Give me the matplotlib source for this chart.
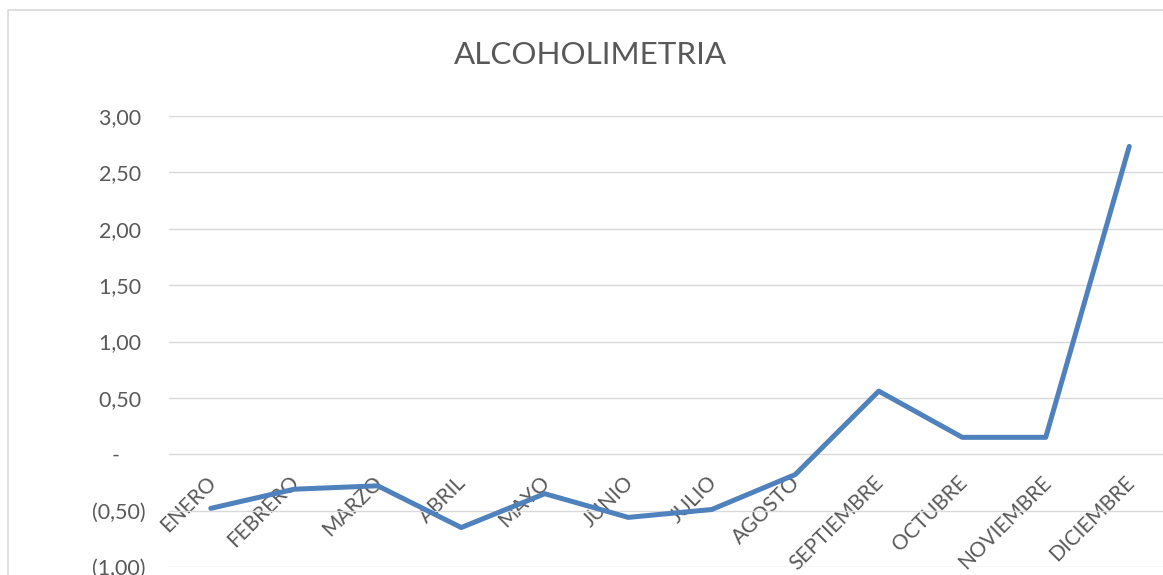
import matplotlib
matplotlib.use("Agg")
import matplotlib.pyplot as plt
from matplotlib.lines import Line2D
from matplotlib.ticker import FixedLocator, FuncFormatter
from matplotlib.transforms import ScaledTranslation

plt.rcParams['font.family'] = ['Lato', 'DejaVu Sans']

months = ["ENERO", "FEBRERO", "MARZO", "ABRIL", "MAYO", "JUNIO", "JULIO",
          "AGOSTO", "SEPTIEMBRE", "OCTUBRE", "NOVIEMBRE", "DICIEMBRE"]
values = [-0.48, -0.31, -0.28, -0.65, -0.35, -0.56, -0.49, -0.18,
          0.56, 0.15, 0.15, 2.73]
y_ticks = [-1.0, -0.5, 0.0, 0.5, 1.0, 1.5, 2.0, 2.5, 3.0]
title = "ALCOHOLIMETRIA"

W, H = 1163, 575
fig = plt.figure(figsize=(W / 100, H / 100), dpi=100)

# chart border (cropped at right and bottom)
bx = 7.5 / W
by = (H - 10) / H
fig.add_artist(Line2D([bx, bx, 1.0], [0.0, by, by], transform=fig.transFigure,
                      color="#D9D9D9", lw=1.2))

left, right = 169, 1171
top, bottom = 116, 567
ax = fig.add_axes([left / W, (H - bottom) / H, (right - left) / W, (bottom - top) / H])
ax.set_xlim(-0.5, len(months) - 0.5)
ax.set_ylim(-1.0, 3.0)

x = list(range(len(months)))
ax.plot(x, values, color="#4F81BD", lw=3.6, solid_capstyle="round",
        solid_joinstyle="round", zorder=3)

for s in ax.spines.values():
    s.set_visible(False)

ax.yaxis.set_major_locator(FixedLocator(y_ticks))
def fmt(v, pos):
    if abs(v) < 1e-9:
        return "-\u2007\u2007"
    s = f"{abs(v):.2f}".replace(".", ",")
    return f"({s})" if v < 0 else s + "\u2008"
ax.yaxis.set_major_formatter(FuncFormatter(fmt))
ax.grid(axis="y", color="#D9D9D9", lw=1.0)
ax.set_axisbelow(True)
ax.tick_params(axis="y", length=0, pad=17, labelsize=15.5, labelcolor="#595959")

ax.spines['bottom'].set_position(('data', 0))
ax.set_xticks(x)
ax.set_xticklabels(months, rotation=45, ha="right", va="center",
                   rotation_mode="anchor")
ax.tick_params(axis="x", length=0, pad=18, labelsize=15, labelcolor="#595959")
shift = ScaledTranslation(2 / 100, 0, fig.dpi_scale_trans)
for lbl in ax.get_xticklabels():
    lbl.set_clip_on(False)
    lbl.set_transform(lbl.get_transform() + shift)

fig.text(590 / W, 1 - 55 / H, title, ha="center", va="center",
         fontsize=22.6, color="#595959")

fig.savefig("out.png", dpi=100)
